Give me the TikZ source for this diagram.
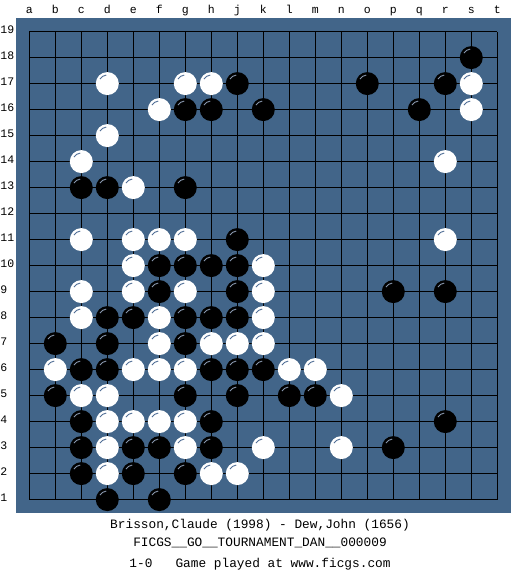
\documentclass[tikz,border=0pt]{standalone}
\usepackage{fontspec}
\newfontfamily\monof{Liberation Mono}
\definecolor{board}{RGB}{66,101,137}
\definecolor{hlb}{RGB}{135,150,172}
\definecolor{hlw}{RGB}{80,110,150}
\begin{document}
\begin{tikzpicture}[x=1pt,y=1pt,
  gridline/.style={line width=1.1pt,black},
  hlB/.style={draw=hlb,line width=0.9pt},
  hlW/.style={draw=hlw,line width=0.9pt},
  lbl/.style={font=\monof\fontsize{11.5}{12}\selectfont,inner sep=0pt},
  caption/.style={font=\monof\fontsize{12.8}{14}\selectfont,inner sep=0pt,anchor=base}]
\useasboundingbox (0,0) rectangle (525,575);
\fill[white] (0,0) rectangle (525,575);
\fill[board] (16,62.3) rectangle (510.7,557);
\foreach \i in {0,...,18} {
  \draw[gridline] ({29.3+26*\i},75.4) -- ({29.3+26*\i},543.4);
  \draw[gridline] (29.3,{75.4+26*\i}) -- (497.3,{75.4+26*\i});
}
\foreach \l [count=\i from 0] in {a,b,c,d,e,f,g,h,j,k,l,m,n,o,p,q,r,s,t}
  \node[lbl,anchor=base] (col\l) at ({29.3+26*\i},561) {\l};
\foreach \r in {1,...,19}
  \node[lbl,anchor=base west] (row\r) at (0.3,{49.4+26*\r-1.5}) {\r};
% black stones
\foreach \c/\r in {17/18, 8/17,13/17,16/17, 6/16,7/16,9/16,15/16,
  2/13,3/13,6/13, 8/11, 5/10,6/10,7/10,8/10, 5/9,8/9,14/9,16/9,
  3/8,4/8,6/8,7/8,8/8, 1/7,3/7,6/7, 2/6,3/6,7/6,8/6,9/6,
  1/5,6/5,8/5,10/5,11/5, 2/4,7/4,16/4, 2/3,4/3,5/3,7/3,14/3,
  2/2,4/2,6/2, 3/1,5/1} {
  \fill[black] ({29.3+26*\c},{49.4+26*\r}) circle (11.5);
  \draw[hlB] ({29.3+26*\c},{49.4+26*\r}) ++(97:8.6) arc (97:148:8.6);
}
% white stones
\foreach \c/\r in {3/17,6/17,7/17,17/17, 5/16,17/16, 3/15, 2/14,16/14, 4/13,
  2/11,4/11,5/11,6/11,16/11, 4/10,9/10, 2/9,4/9,6/9,9/9, 2/8,5/8,9/8,
  5/7,7/7,8/7,9/7, 1/6,4/6,5/6,6/6,10/6,11/6, 2/5,3/5,12/5,
  3/4,4/4,5/4,6/4, 3/3,6/3,9/3,12/3, 3/2,7/2,8/2} {
  \fill[white] ({29.3+26*\c},{49.4+26*\r}) circle (11.5);
  \draw[hlW] ({29.3+26*\c},{49.4+26*\r}) ++(97:8.6) arc (97:148:8.6);
}
\node[caption] (players) at (260,46) {Brisson,Claude (1998) - Dew,John (1656)};
\node[caption] (event) at (260,28) {FICGS\_\_GO\_\_TOURNAMENT\_DAN\_\_000009};
\node[caption] (result) at (260,8) {1-0\ \ \ Game played at www.ficgs.com};
\end{tikzpicture}
\end{document}
